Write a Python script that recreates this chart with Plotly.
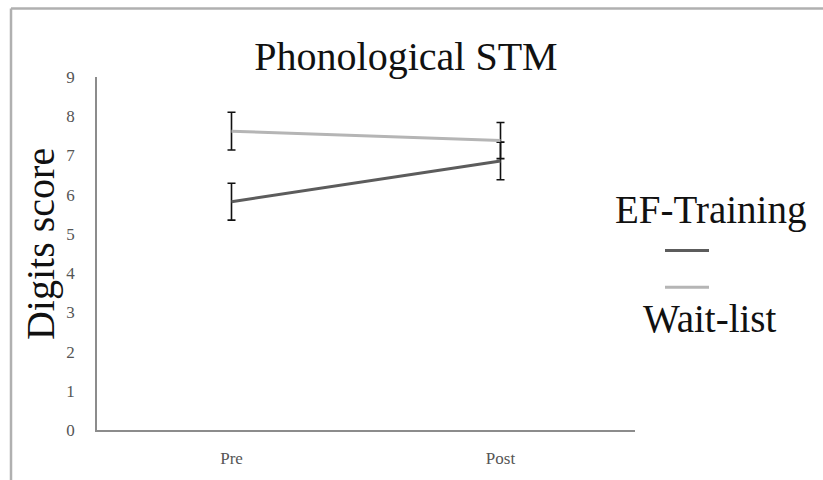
import plotly.graph_objects as go

# Data
categories = ["Pre", "Post"]
ef_training = [5.82, 6.86]
ef_err = [0.47, 0.48]
wait_list = [7.62, 7.38]
wait_err = [0.48, 0.46]
y_ticks = [0, 1, 2, 3, 4, 5, 6, 7, 8, 9]

FONT = "Liberation Serif, Times New Roman, DejaVu Serif, serif"

fig = go.Figure()
fig.add_trace(go.Scatter(
    x=categories, y=ef_training, mode="lines", name=" ",
    line=dict(color="#5c5c5c", width=3),
    error_y=dict(type="data", array=ef_err, visible=True, color="#111111", thickness=1.6, width=4),
))
fig.add_trace(go.Scatter(
    x=categories, y=wait_list, mode="lines", name="  ",
    line=dict(color="#b5b5b5", width=3),
    error_y=dict(type="data", array=wait_err, visible=True, color="#111111", thickness=1.6, width=4),
))

L, R, T, B = 97, 188, 77, 48
W, H = 823, 480
pw, ph = W - L - R, H - T - B

def px(x):
    return (x - L) / pw

def py(y):
    return (H - B - y) / ph

fig.update_layout(
    width=W, height=H, autosize=False,
    margin=dict(l=L, r=R, t=T, b=B),
    paper_bgcolor="white", plot_bgcolor="white",
    font=dict(family=FONT, color="#111111"),
    title=dict(text="Phonological STM", x=px(406), xref="paper", xanchor="center",
               y=1 - 56 / H, yref="container", yanchor="middle",
               font=dict(family=FONT, size=40, color="#111111")),
    xaxis=dict(type="category", range=[-0.5, 1.5], showline=True, linecolor="#8c8c8c",
               linewidth=1.5, showgrid=False, zeroline=False, ticks="",
               tickfont=dict(family=FONT, size=17, color="#555555"), ticklabelstandoff=12),
    yaxis=dict(range=[0, 9], tickvals=y_ticks, showline=True, linecolor="#8c8c8c",
               linewidth=1.5, showgrid=False, zeroline=False, ticks="",
               tickfont=dict(family=FONT, size=17, color="#555555"), ticklabelstandoff=17),
    showlegend=True,
    legend=dict(x=px(660), xanchor="left", y=py(228), yanchor="top",
                font=dict(family=FONT, size=26), tracegroupgap=0, itemwidth=44,
                bgcolor="rgba(0,0,0,0)"),
    annotations=[
        dict(text="Digits score", x=px(40), y=py(245), xref="paper", yref="paper",
             textangle=-90, showarrow=False, xanchor="center", yanchor="middle",
             font=dict(family=FONT, size=40, color="#111111")),
        dict(text="EF-Training", x=px(710), y=py(211), xref="paper", yref="paper",
             showarrow=False, xanchor="center", yanchor="middle",
             font=dict(family=FONT, size=39, color="#111111")),
        dict(text="Wait-list", x=px(710), y=py(320), xref="paper", yref="paper",
             showarrow=False, xanchor="center", yanchor="middle",
             font=dict(family=FONT, size=39, color="#111111")),
    ],
    shapes=[
        dict(type="line", xref="paper", yref="paper", x0=px(11), x1=px(W + 5),
             y0=py(8), y1=py(8), line=dict(color="#b0b0b0", width=2.5)),
        dict(type="line", xref="paper", yref="paper", x0=px(11), x1=px(11),
             y0=py(8), y1=py(H + 5), line=dict(color="#b0b0b0", width=2.5)),
    ],
)

fig.write_html("out.html", config={"displayModeBar": False},
               post_script="document.body.style.margin='0';document.body.style.overflow='hidden';")
